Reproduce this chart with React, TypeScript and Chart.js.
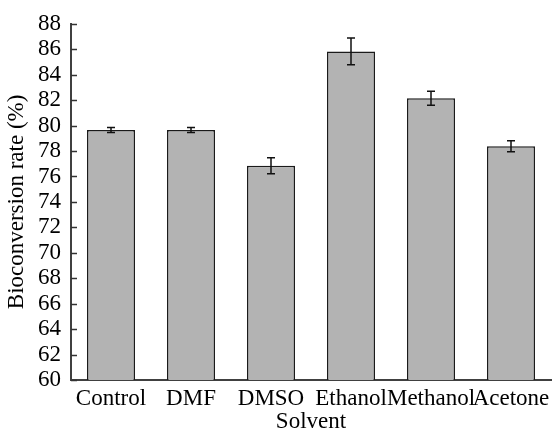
import React, { useEffect, useRef } from "react";
import { Chart, registerables } from "chart.js";

Chart.register(...registerables);

const categories = ["Control", "DMF", "DMSO", "Ethanol", "Methanol", "Acetone"];
const values = [79.65, 79.65, 76.85, 85.83, 82.15, 78.38];
const errors = [0.2, 0.2, 0.63, 1.05, 0.55, 0.43];
const yMin = 60;
const yMax = 88;
const yStep = 2;

const FONT = "'Liberation Serif', 'Times New Roman', serif";

const errorBarPlugin = {
  id: "errorBars",
  afterDatasetsDraw(chart: any) {
    const ctx = chart.ctx;
    const yScale = chart.scales.y;
    const meta = chart.getDatasetMeta(0);
    ctx.save();
    ctx.strokeStyle = "#111";
    ctx.lineWidth = 1.5;
    meta.data.forEach((bar: any, i: number) => {
      const x = bar.x;
      const yTop = yScale.getPixelForValue(values[i] + errors[i]);
      const yBot = yScale.getPixelForValue(values[i] - errors[i]);
      ctx.beginPath();
      ctx.moveTo(x, yTop);
      ctx.lineTo(x, yBot);
      ctx.moveTo(x - 4, yTop);
      ctx.lineTo(x + 4, yTop);
      ctx.moveTo(x - 4, yBot);
      ctx.lineTo(x + 4, yBot);
      ctx.stroke();
    });
    // inward y ticks
    ctx.strokeStyle = "#333";
    ctx.lineWidth = 1.5;
    const left = chart.chartArea.left;
    yScale.ticks.forEach((t: any) => {
      const y = Math.round(yScale.getPixelForValue(t.value)) + 0.5;
      ctx.beginPath();
      ctx.moveTo(left, y);
      ctx.lineTo(left + 6, y);
      ctx.stroke();
    });
    ctx.restore();
  },
};

export default function App() {
  const ref = useRef<HTMLCanvasElement | null>(null);
  useEffect(() => {
    if (!ref.current) return;
    const chart = new Chart(ref.current, {
      type: "bar",
      data: {
        labels: categories,
        datasets: [
          {
            data: values,
            backgroundColor: "#b3b3b3",
            borderColor: "#1a1a1a",
            borderWidth: 1.5,
            categoryPercentage: 0.6,
            barPercentage: 1,
          },
        ],
      },
      options: {
        responsive: false,
        animation: false,
        layout: { padding: { top: 21, right: 7, left: 0, bottom: 0 } },
        plugins: { legend: { display: false }, tooltip: { enabled: false } },
        scales: {
          x: {
            grid: { display: false, drawTicks: false },
            border: { display: true, color: "#404040", width: 2 },
            ticks: {
              color: "#000",
              font: { family: FONT, size: 23 },
              padding: 5,
              maxRotation: 0,
              autoSkip: false,
            },
            title: {
              display: true,
              text: "Solvent",
              color: "#000",
              font: { family: FONT, size: 23, lineHeight: 1 },
              padding: { top: 0, bottom: 0 },
            },
            afterFit: (s: any) => {
              s.height = 53;
            },
          },
          y: {
            min: yMin,
            max: yMax,
            grid: { display: false, drawTicks: false },
            border: { display: true, color: "#404040", width: 2 },
            ticks: {
              stepSize: yStep,
              autoSkip: false,
              color: "#000",
              font: { family: FONT, size: 23 },
              padding: 10,
            },
            title: {
              display: true,
              text: "Bioconversion rate (%)",
              color: "#000",
              font: { family: FONT, size: 23, lineHeight: 1 },
              padding: { top: 5, bottom: 0 },
            },
            afterFit: (s: any) => {
              s.width = 71;
            },
          },
        },
      },
      plugins: [errorBarPlugin],
    });
    return () => chart.destroy();
  }, []);
  return (
    <div style={{ position: "absolute", left: 0, top: 0, width: 558, height: 433 }}>
      <canvas ref={ref} width={558} height={433} style={{ display: "block" }} />
    </div>
  );
}
